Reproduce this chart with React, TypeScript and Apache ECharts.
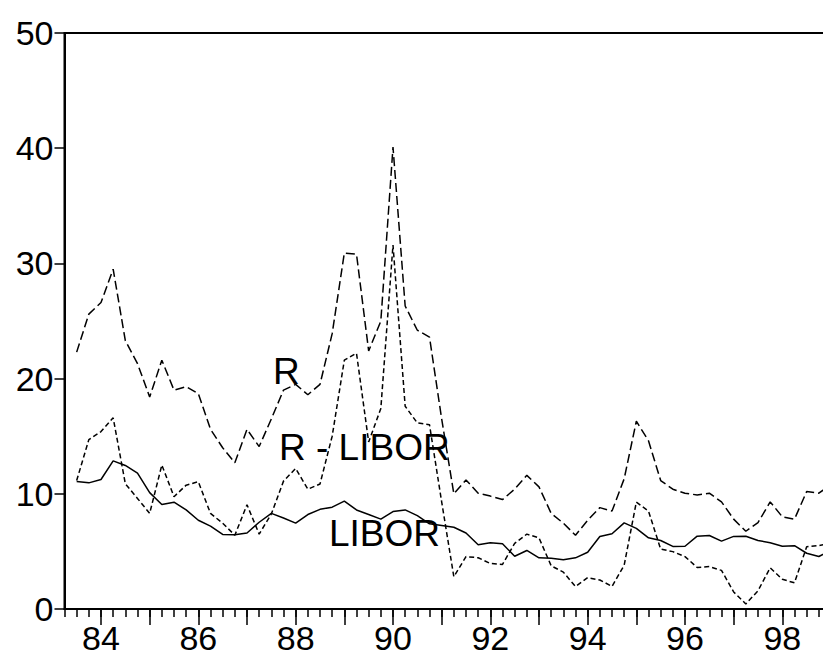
import React, { useEffect, useRef } from "react";
import * as echarts from "echarts";

// Quarterly categories 1983Q2 .. 1999Q1
const startYear = 1983;
const quarters: string[] = [];
for (let i = 0; i < 64; i++) {
  const q = ((i + 1) % 4) + 1;
  const y = startYear + Math.floor((i + 1) / 4);
  quarters.push(`${y}Q${q}`);
}

const rValues: (number | null)[] = [
  null, 22.3, 25.6, 26.6, 29.5, 23.3, 21.3, 18.4, 21.6, 19.0, 19.3, 18.7, 15.6, 14.0, 12.7, 15.6,
  14.1, 16.5, 19.0, 19.5, 18.6, 19.5, 23.9, 30.9, 30.8, 22.4, 25.0, 40.1, 26.3, 24.2, 23.6, 16.5,
  10.0, 11.2, 10.05, 9.8, 9.5, 10.4, 11.6, 10.6, 8.3, 7.45, 6.4, 7.7, 8.8, 8.5, 11.3, 16.3,
  14.6, 11.15, 10.4, 10.05, 9.9, 10.05, 9.3, 7.8, 6.75, 7.5, 9.3, 8.0, 7.8, 10.2, 10.05, 10.8,
];

const liborValues: (number | null)[] = [
  null, 11.07, 10.95, 11.24, 12.86, 12.46, 11.8, 10.1, 9.07, 9.27, 8.6, 7.7, 7.2, 6.47, 6.44, 6.6,
  7.53, 8.3, 7.9, 7.45, 8.2, 8.65, 8.84, 9.36, 8.6, 8.2, 7.8, 8.46, 8.6, 8.1, 7.4, 7.25,
  7.1, 6.6, 5.57, 5.75, 5.66, 4.58, 5.08, 4.44, 4.4, 4.27, 4.44, 4.93, 6.3, 6.53, 7.48, 7.0,
  6.18, 5.95, 5.43, 5.45, 6.32, 6.38, 5.89, 6.3, 6.32, 5.95, 5.75, 5.45, 5.5, 4.84, 4.56, 5.1,
];

const spreadValues: (number | null)[] = [
  null, 11.15, 14.7, 15.4, 16.6, 10.87, 9.6, 8.3, 12.5, 9.75, 10.75, 11.05, 8.3, 7.45, 6.4, 9.05,
  6.5, 8.25, 11.1, 12.2, 10.4, 10.85, 15.0, 21.6, 22.2, 14.5, 17.4, 31.6, 17.6, 16.15, 16.0, 9.3,
  2.8, 4.55, 4.45, 3.95, 3.87, 5.7, 6.5, 6.17, 3.75, 3.2, 1.95, 2.72, 2.52, 1.96, 3.8, 9.28,
  8.5, 5.2, 4.98, 4.55, 3.6, 3.68, 3.35, 1.48, 0.44, 1.58, 3.58, 2.58, 2.27, 5.4, 5.5, 5.7,
];

const yTicks = { min: 0, max: 50, interval: 10 };

const FONT = '"Liberation Sans", Arial, sans-serif';

export default function App() {
  const ref = useRef<HTMLDivElement>(null);
  useEffect(() => {
    if (!ref.current) return;
    const chart = echarts.init(ref.current, undefined, { renderer: "svg" });
    const option: any = {
      animation: false,
      backgroundColor: "#fff",
      grid: {
        left: 64.5,
        right: -8,
        top: 33,
        bottom: 47,
        show: true,
        borderColor: "#000",
        borderWidth: 2,
        backgroundColor: "transparent",
        outerBoundsMode: "none",
        containLabel: false,
      },
      xAxis: [
        {
          type: "category",
          data: quarters,
          boundaryGap: false,
          position: "bottom",
          axisLine: { show: true, lineStyle: { color: "#000", width: 2 } },
          axisTick: { show: true, interval: 0, length: 8, lineStyle: { color: "#000", width: 1.5 } },
          axisLabel: { show: false },
          splitLine: { show: false },
        },
        {
          type: "category",
          data: quarters,
          boundaryGap: false,
          position: "bottom",
          axisLine: { show: false },
          axisTick: {
            show: true,
            interval: (_i: number, v: string) => v.endsWith("Q1"),
            length: 16,
            lineStyle: { color: "#000", width: 1.5 },
          },
          axisLabel: {
            show: true,
            interval: (_i: number, v: string) => v.endsWith("Q1") && parseInt(v.slice(0, 4)) % 2 === 0,
            formatter: (v: string) => v.slice(2, 4),
            fontSize: 34,
            lineHeight: 34,
            fontFamily: FONT,
            color: "#000",
            margin: 12,
            hideOverlap: false,
          },
          splitLine: { show: false },
        },
      ],
      yAxis: {
        type: "value",
        min: yTicks.min,
        max: yTicks.max,
        interval: yTicks.interval,
        axisLine: { show: true, lineStyle: { color: "#000", width: 2 } },
        axisTick: { show: true, length: 10, lineStyle: { color: "#000", width: 1.5 } },
        axisLabel: { fontSize: 34, lineHeight: 30, fontFamily: FONT, color: "#000", margin: 11 },
        splitLine: { show: false },
      },
      series: [
        {
          name: "R",
          type: "line",
          data: rValues,
          showSymbol: false,
          symbol: "none",
          connectNulls: false,
          lineStyle: { color: "#000", width: 1.5, type: [9, 4] },
          z: 3,
        },
        {
          name: "R - LIBOR",
          type: "line",
          data: spreadValues,
          showSymbol: false,
          symbol: "none",
          lineStyle: { color: "#000", width: 1.5, type: [5, 3] },
          z: 3,
        },
        {
          name: "LIBOR",
          type: "line",
          data: liborValues,
          showSymbol: false,
          symbol: "none",
          lineStyle: { color: "#000", width: 1.5, type: "solid" },
          z: 4,
        },
      ],
      graphic: [
        {
          type: "text",
          x: 273,
          y: 371,
          z: 100,
          style: { text: "R", fontSize: 37, fontFamily: FONT, fill: "#000", align: "left", verticalAlign: "middle" },
        },
        {
          type: "text",
          x: 279,
          y: 447,
          z: 100,
          style: { text: "R - LIBOR", fontSize: 37, fontFamily: FONT, fill: "#000", align: "left", verticalAlign: "middle" },
        },
        {
          type: "text",
          x: 329,
          y: 533,
          z: 100,
          style: { text: "LIBOR", fontSize: 37, fontFamily: FONT, fill: "#000", align: "left", verticalAlign: "middle" },
        },
      ],
    };
    chart.setOption(option);
    return () => chart.dispose();
  }, []);
  return (
    <div
      ref={ref}
      style={{ position: "absolute", left: 0, top: 0, width: 823, height: 656, background: "#fff" }}
    />
  );
}
